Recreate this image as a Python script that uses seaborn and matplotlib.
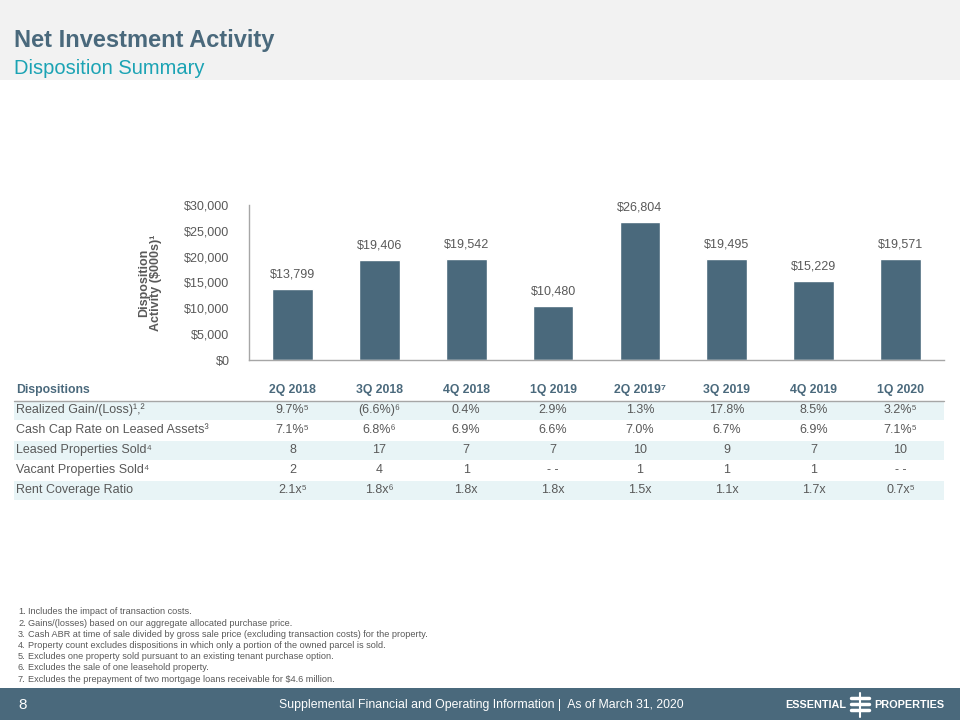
import matplotlib
matplotlib.use("Agg")
import matplotlib.pyplot as plt
import matplotlib.transforms as mtransforms
import seaborn as sns

# data
quarters = ['2Q 2018', '3Q 2018', '4Q 2018', '1Q 2019', '2Q 2019', '3Q 2019', '4Q 2019', '1Q 2020']
header_sup = ['', '', '', '', '7', '', '', '']
disposition_activity = [13799, 19406, 19542, 10480, 26804, 19495, 15229, 19571]

row_labels = ['Realized Gain/(Loss)', 'Cash Cap Rate on Leased Assets', 'Leased Properties Sold',
              'Vacant Properties Sold', 'Rent Coverage Ratio']
row_label_sup = ['1,2', '3', '4', '4', '']
realized_gain = ['9.7%', '(6.6%)', '0.4%', '2.9%', '1.3%', '17.8%', '8.5%', '3.2%']
realized_gain_sup = ['5', '6', '', '', '', '', '', '5']
cash_cap_rate = ['7.1%', '6.8%', '6.9%', '6.6%', '7.0%', '6.7%', '6.9%', '7.1%']
cash_cap_rate_sup = ['5', '6', '', '', '', '', '', '5']
leased_sold = ['8', '17', '7', '7', '10', '9', '7', '10']
vacant_sold = ['2', '4', '1', '--', '1', '1', '1', '--']
rent_coverage = ['2.1x', '1.8x', '1.8x', '1.8x', '1.5x', '1.1x', '1.7x', '0.7x']
rent_coverage_sup = ['5', '6', '', '', '', '', '', '5']
no_sup = [''] * 8

footnotes = [
    'Includes the impact of transaction costs.',
    'Gains/(losses) based on our aggregate allocated purchase price.',
    'Cash ABR at time of sale divided by gross sale price (excluding transaction costs) for the property.',
    'Property count excludes dispositions in which only a portion of the owned parcel is sold.',
    'Excludes one property sold pursuant to an existing tenant purchase option.',
    'Excludes the sale of one leasehold property.',
    'Excludes the prepayment of two mortgage loans receivable for $4.6 million.',
]

SLATE = '#4a697c'
GREY = '#595959'
TEAL = '#1ba3b4'
BAND = '#e8f4f6'

sns.set_style('white')
plt.rcParams['font.family'] = ['Liberation Sans', 'DejaVu Sans']

fig = plt.figure(figsize=(9.6, 7.2), dpi=100)

# page layer in pixel coordinates
page = fig.add_axes([0, 0, 1, 1], zorder=0)
page.set_xlim(0, 960)
page.set_ylim(720, 0)
page.axis('off')

# header band and footer band
page.add_patch(plt.Rectangle((0, 0), 960, 80, color='#f2f2f2', lw=0))
page.add_patch(plt.Rectangle((0, 688), 960, 32, color=SLATE, lw=0))
page.text(14, 40, 'Net Investment Activity', fontsize=17, fontweight='bold', color=SLATE, va='center')
page.text(14, 68, 'Disposition Summary', fontsize=14.5, color=TEAL, va='center')

# bar chart
ax = fig.add_axes([249 / 960, 0.5, (944 - 249) / 960, (360 - 205) / 720], zorder=2)
ax.patch.set_alpha(0)
sns.barplot(x=quarters, y=disposition_activity, color=SLATE, saturation=1, width=0.47, ax=ax)
ax.set_ylim(0, 30000)
ax.set_yticks(range(0, 30001, 5000))
ax.set_yticklabels([f'${v:,}' for v in range(0, 30001, 5000)], color=GREY, fontsize=9)
ax.set_xticklabels([])
ax.tick_params(axis='both', length=0, pad=14)
ax.bar_label(ax.containers[0], labels=[f'${v:,}' for v in disposition_activity],
             padding=6, color=GREY, fontsize=9)
for side in ['top', 'right']:
    ax.spines[side].set_visible(False)
for side in ['left', 'bottom']:
    ax.spines[side].set_color('#a6a6a6')
    ax.spines[side].set_linewidth(1)
ax.set_ylabel('Disposition\nActivity ($000s)\u00b9', fontsize=9, fontweight='bold',
              color=GREY, labelpad=16, linespacing=1.0)

# table below the chart, columns share the bar axis x scale
col_tr = mtransforms.blended_transform_factory(ax.transData, page.transData)
row_y = [410, 430, 450, 470, 490]
for y in [row_y[0], row_y[2], row_y[4]]:
    page.add_patch(plt.Rectangle((14, y - 9.5), 930, 19.5, color=BAND, lw=0))
page.plot([14, 944], [400.5, 400.5], color='#a6a6a6', lw=1)

page.text(16, 390, 'Dispositions', fontsize=8.8, fontweight='bold', color=SLATE, va='center')
for i, q in enumerate(quarters):
    page.text(i, 390, q + ('\u2077' if header_sup[i] else ''), transform=col_tr,
              fontsize=8.8, fontweight='bold', color=SLATE, ha='center', va='center')

sup_map = str.maketrans('1234567,', '\u00b9\u00b2\u00b3\u2074\u2075\u2076\u2077,')
rows = [(realized_gain, realized_gain_sup), (cash_cap_rate, cash_cap_rate_sup),
        (leased_sold, no_sup), (vacant_sold, no_sup), (rent_coverage, rent_coverage_sup)]
for r, (label, lsup, (vals, sups)) in enumerate(zip(row_labels, row_label_sup, rows)):
    y = row_y[r]
    page.text(16, y, label + lsup.translate(sup_map), fontsize=9, color=GREY, va='center')
    for i, (v, s) in enumerate(zip(vals, sups)):
        page.text(i, y, v.replace('--', '- -') + s.translate(sup_map), transform=col_tr,
                  fontsize=9, color=GREY, ha='center', va='center')

# footnotes
for k, note in enumerate(footnotes):
    y = 612 + k * 11.2
    page.text(18, y, f'{k + 1}.', fontsize=6.6, color=GREY, va='center')
    page.text(28, y, note, fontsize=6.6, color=GREY, va='center')

# footer
page.text(18, 705, '8', fontsize=11, color='white', va='center')
page.text(481, 705, 'Supplemental Financial and Operating Information |  As of March 31, 2020',
          fontsize=8.8, color='white', va='center', ha='center')
page.text(846, 705, 'ESSENTIAL', fontsize=7.8, fontweight='bold', color='white', va='center', ha='right')
page.text(874, 705, 'PROPERTIES', fontsize=7.8, fontweight='bold', color='white', va='center', ha='left')
page.plot([860, 860], [693, 717], color='white', lw=1.5)
for yy in [698, 704, 710]:
    page.plot([851, 869], [yy, yy], color='white', lw=2.5)

fig.savefig('out.png', dpi=100)
